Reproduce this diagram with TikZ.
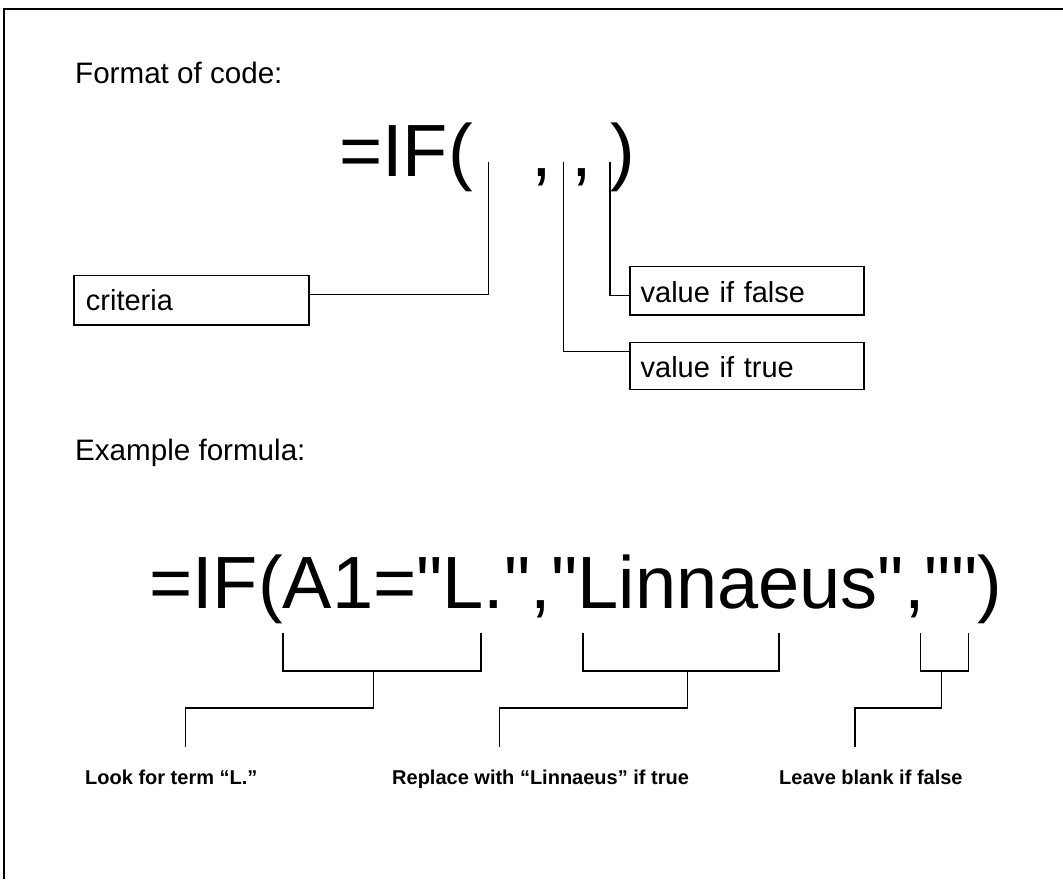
\documentclass[tikz,border=0pt]{standalone}
\usepackage{fontspec}
\setmainfont{Liberation Sans}
\newfontfamily\formfont{Liberation Sans}[Ligatures=TeXOff]
\begin{document}
\begin{tikzpicture}[x=1pt,y=-1pt,
  lbl/.style={inner sep=0pt, anchor=base west, font=\fontsize{29.6}{34}\selectfont},
  big/.style={inner sep=0pt, anchor=base west, font=\formfont\fontsize{74}{80}\selectfont},
  note/.style={inner sep=0pt, anchor=base west, font=\bfseries\fontsize{20}{23}\selectfont},
  box/.style={draw, line width=1.3pt, inner ysep=0pt, align=left, anchor=north west, text depth=0pt, font=\fontsize{29}{34}\selectfont},
  conn/.style={line width=1.3pt}]
\useasboundingbox (0,0) rectangle (1063,879);
\fill[white] (0,0) rectangle (1063,879);
\draw[line width=2pt] (4,879) -- (4,9) -- (1063,9);

% headings
\node[lbl] (h1) at (75,83) {Format of code:};
\node[lbl] (h2) at (75,460) {Example formula:};

% format of code
\node[big] (fmt) at (339,176) {=IF(\hspace{59pt},\hspace{19.4pt},\hspace{18pt})};

\node[box, inner xsep=12pt, text width=211pt, minimum height=49.3pt, text height=20.8pt] (crit) at (73.3,275) {criteria};
\node[box, inner xsep=10.7pt, text width=212.6pt, minimum height=48.3pt, text height=23pt] (vfalse) at (629.3,266) {value if false};
\node[box, inner xsep=10.7pt, text width=212.6pt, minimum height=47.3pt, text height=23pt] (vtrue) at (629.3,341.7) {value if true};

\coordinate (t1) at (488.3,161.7);
\coordinate (t2) at (563.3,161.7);
\coordinate (t3) at (610,161.7);
\draw[conn] (t1) |- ([yshift=5.6pt]crit.east);
\draw[conn] (t2) |- ([yshift=14.35pt]vtrue.west);
\draw[conn] (t3) |- ([yshift=-4.85pt]vfalse.west);

% example formula
\node[big] (ex) at (149,608) {=IF(A1="L.","Linnaeus","")};

\coordinate (a1) at (283,633); \coordinate (a2) at (481,633);
\coordinate (am) at (373.5,671); \coordinate (ak) at (185.5,708); \coordinate (ae) at (185.5,747);
\coordinate (b1) at (583,633); \coordinate (b2) at (779,633);
\coordinate (bm) at (687.7,671); \coordinate (bk) at (499.7,708); \coordinate (be) at (499.7,747);
\coordinate (c1) at (920.7,633); \coordinate (c2) at (968.3,633);
\coordinate (cm) at (941.7,671); \coordinate (ck) at (854.9,708); \coordinate (ce) at (854.9,747);

\draw[conn] (a1) |- (am) -| (a2);
\draw[conn] (am) |- (ak) -- (ae);
\draw[conn] (b1) |- (bm) -| (b2);
\draw[conn] (bm) |- (bk) -- (be);
\draw[conn] (c1) |- (cm) -| (c2);
\draw[conn] (cm) |- (ck) -- (ce);

\node[note] (n1) at (85,784) {Look for term “L.”};
\node[note] (n2) at (392,784) {Replace with “Linnaeus” if true};
\node[note] (n3) at (779,784) {Leave blank if false};
\end{tikzpicture}
\end{document}
